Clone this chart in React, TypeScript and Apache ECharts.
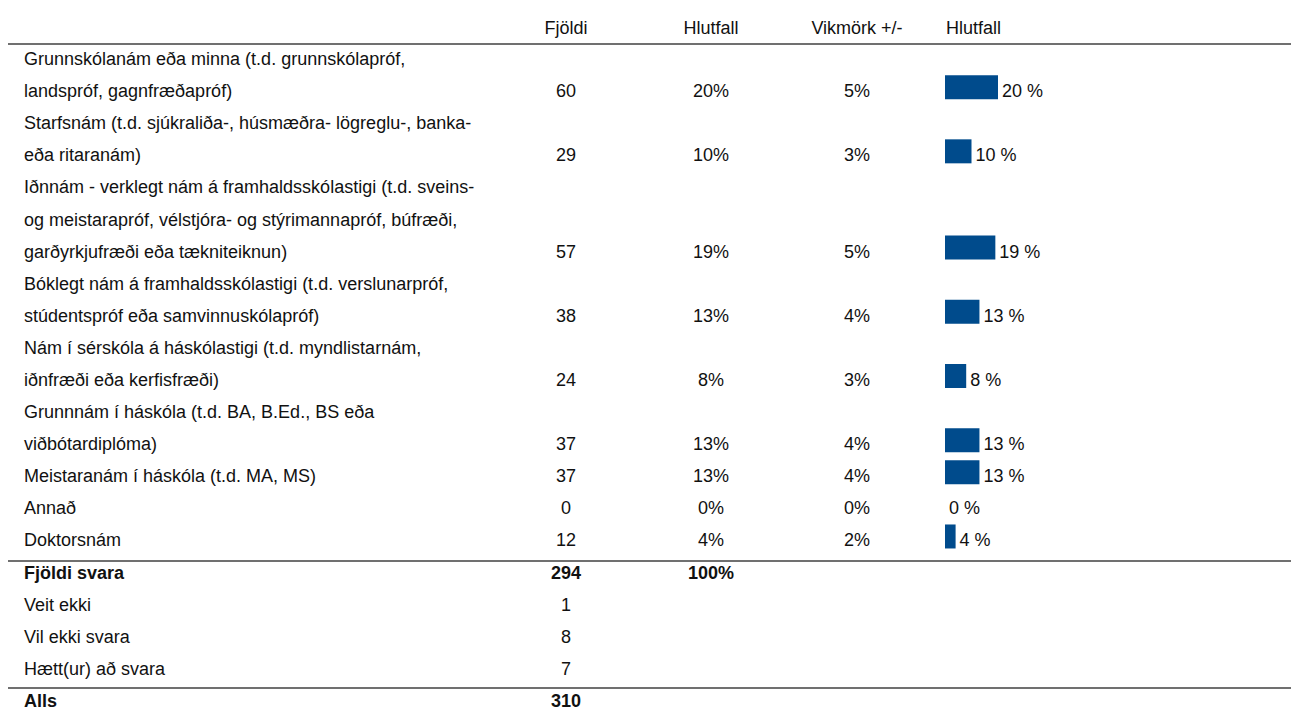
import React, { useEffect, useRef } from "react";
import * as echarts from "echarts";

const headers = ["Fjöldi", "Hlutfall", "Vikmörk +/-", "Hlutfall"];
const answerLabels: string[][] = [
  ["Grunnskólanám eða minna (t.d. grunnskólapróf,", "landspróf, gagnfræðapróf)"],
  ["Starfsnám (t.d. sjúkraliða-, húsmæðra- lögreglu-, banka-", "eða ritaranám)"],
  [
    "Iðnnám - verklegt nám á framhaldsskólastigi (t.d. sveins-",
    "og meistarapróf, vélstjóra- og stýrimannapróf, búfræði,",
    "garðyrkjufræði eða tækniteiknun)",
  ],
  ["Bóklegt nám á framhaldsskólastigi (t.d. verslunarpróf,", "stúdentspróf eða samvinnuskólapróf)"],
  ["Nám í sérskóla á háskólastigi (t.d. myndlistarnám,", "iðnfræði eða kerfisfræði)"],
  ["Grunnnám í háskóla (t.d. BA, B.Ed., BS eða", "viðbótardiplóma)"],
  ["Meistaranám í háskóla (t.d. MA, MS)"],
  ["Annað"],
  ["Doktorsnám"],
];
const answerCounts = [60, 29, 57, 38, 24, 37, 37, 0, 12];
const answerPercents = [20, 10, 19, 13, 8, 13, 13, 0, 4];
const answerMargins = [5, 3, 5, 4, 3, 4, 4, 0, 2];
const totalLabel = "Fjöldi svara";
const totalCount = 294;
const totalPercent = "100%";
const otherLabels = ["Veit ekki", "Vil ekki svara", "Hætt(ur) að svara"];
const otherCounts = [1, 8, 7];
const grandLabel = "Alls";
const grandCount = 310;

type Line = {
  text: string;
  bold?: boolean;
  count?: string;
  pct?: string;
  margin?: string;
  bar?: number;
};

function buildLines(): Line[] {
  const lines: Line[] = [];
  answerLabels.forEach((parts, i) => {
    parts.forEach((t, j) => {
      const last = j === parts.length - 1;
      lines.push(
        last
          ? {
              text: t,
              count: String(answerCounts[i]),
              pct: answerPercents[i] + "%",
              margin: answerMargins[i] + "%",
              bar: answerPercents[i],
            }
          : { text: t }
      );
    });
  });
  lines.push({ text: totalLabel, bold: true, count: String(totalCount), pct: totalPercent });
  otherLabels.forEach((t, i) => lines.push({ text: t, count: String(otherCounts[i]) }));
  lines.push({ text: grandLabel, bold: true, count: String(grandCount) });
  return lines;
}

const FONT = "'Liberation Sans', Arial, sans-serif";
const FS = 18;
const TXT = "#111";
const COL_LABEL_X = 24;
const COL_COUNT_X = 566;
const COL_PCT_X = 711;
const COL_MARGIN_X = 857;
const COL_BAR_X = 946;
const HEADER_Y = 28;
const TEXT_SHIFT = 4;

export default function App() {
  const ref = useRef<HTMLDivElement>(null);
  useEffect(() => {
    if (!ref.current) return;
    const chart = echarts.init(ref.current, null, { renderer: "svg" });
    const lines = buildLines();
    const cats = lines.map((_, i) => String(i));
    const barData = lines.map((l) => (l.bar === undefined ? "-" : l.bar));

    chart.setOption({
      animation: false,
      grid: { left: 945, right: 81, top: 39, bottom: 0, containLabel: false },
      xAxis: { type: "value", min: 0, max: 100, show: false },
      yAxis: { type: "category", data: cats, inverse: true, show: false },
      series: [
        {
          type: "bar",
          data: barData,
          barWidth: 24,
          itemStyle: { color: "#004b8c" },
          label: {
            show: true,
            position: "right",
            distance: 4,
            offset: [0, TEXT_SHIFT],
            formatter: "{c} %",
            fontFamily: FONT,
            fontSize: FS,
            color: TXT,
          },
          silent: true,
        },
      ],
    });

    const graphics: any[] = [];
    const textEl = (x: number, y: number, text: string, align: string, bold?: boolean) => ({
      type: "text",
      x,
      y,
      silent: true,
      style: {
        text,
        x: 0,
        y: 0,
        fill: TXT,
        font: `${bold ? "bold " : ""}${FS}px ${FONT}`,
        textAlign: align,
        textVerticalAlign: "middle",
      },
    });
    graphics.push(textEl(COL_COUNT_X, HEADER_Y, headers[0], "center"));
    graphics.push(textEl(COL_PCT_X, HEADER_Y, headers[1], "center"));
    graphics.push(textEl(COL_MARGIN_X, HEADER_Y, headers[2], "center"));
    graphics.push(textEl(COL_BAR_X, HEADER_Y, headers[3], "left"));

    lines.forEach((l, i) => {
      const y = (chart.convertToPixel({ yAxisIndex: 0 }, String(i)) as number) + TEXT_SHIFT;
      graphics.push(textEl(COL_LABEL_X, y, l.text, "left", l.bold));
      if (l.count !== undefined) graphics.push(textEl(COL_COUNT_X, y, l.count, "center", l.bold));
      if (l.pct !== undefined) graphics.push(textEl(COL_PCT_X, y, l.pct, "center", l.bold));
      if (l.margin !== undefined) graphics.push(textEl(COL_MARGIN_X, y, l.margin, "center", l.bold));
    });

    const rule = (y: number) => ({
      type: "line",
      silent: true,
      shape: { x1: 8, y1: y, x2: 1291, y2: y },
      style: { stroke: "#707070", lineWidth: 2 },
    });
    graphics.push(rule(44), rule(561), rule(688));

    chart.setOption({ graphic: graphics });
    return () => chart.dispose();
  }, []);
  return (
    <div
      ref={ref}
      style={{ position: "absolute", left: 0, top: 0, width: 1291, height: 713, background: "#fff" }}
    />
  );
}
